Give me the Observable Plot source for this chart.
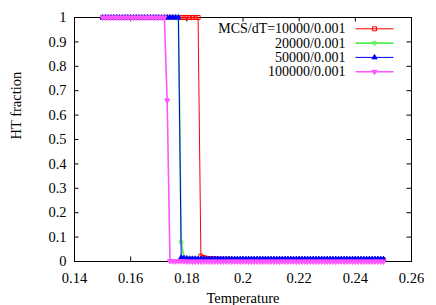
<!DOCTYPE html>
<html><head><meta charset="utf-8">
<script src="https://cdn.jsdelivr.net/npm/d3@7"></script>
<script src="https://cdn.jsdelivr.net/npm/@observablehq/plot@0.6"></script>
<style>
html,body{margin:0;padding:0;background:#fff}
#chart svg{display:block}
</style>
</head><body><div id="chart"></div>
<script>
const temperature = [
  0.150,0.151,0.152,0.153,0.154,0.155,0.156,0.157,0.158,0.159,
  0.160,0.161,0.162,0.163,0.164,0.165,0.166,0.167,0.168,0.169,
  0.170,0.171,0.172,0.173,0.174,0.175,0.176,0.177,0.178,0.179,
  0.180,0.181,0.182,0.183,0.184,0.185,0.186,0.187,0.188,0.189,
  0.190,0.191,0.192,0.193,0.194,0.195,0.196,0.197,0.198,0.199,
  0.200,0.201,0.202,0.203,0.204,0.205,0.206,0.207,0.208,0.209,
  0.210,0.211,0.212,0.213,0.214,0.215,0.216,0.217,0.218,0.219,
  0.220,0.221,0.222,0.223,0.224,0.225,0.226,0.227,0.228,0.229,
  0.230,0.231,0.232,0.233,0.234,0.235,0.236,0.237,0.238,0.239,
  0.240,0.241,0.242,0.243,0.244,0.245,0.246,0.247,0.248,0.249,
  0.250];
const ht10000 = [
  1,1,1,1,1,1,1,1,1,1,
  1,1,1,1,1,1,1,1,1,1,
  1,1,1,1,1,1,1,1,1,1,
  1,1,1,1,1,0.022,0.016,0.013,0.012,0.011,
  0.010,0.010,0.009,0.009,0.009,0.009,0.008,0.008,0.008,0.008,
  0.008,0.008,0.008,0.008,0.008,0.008,0.008,0.008,0.008,0.008,
  0.008,0.008,0.008,0.008,0.008,0.007,0.007,0.007,0.007,0.007,
  0.007,0.007,0.007,0.007,0.007,0.007,0.007,0.007,0.007,0.007,
  0.007,0.007,0.007,0.007,0.007,0.007,0.007,0.007,0.007,0.007,
  0.007,0.007,0.007,0.007,0.007,0.007,0.007,0.007,0.007,0.007,
  0.007];
const ht20000 = [
  1,1,1,1,1,1,1,1,1,1,
  1,1,1,1,1,1,1,1,1,1,
  1,1,1,1,1,1,1,1,0.08,0.016,
  0.013,0.012,0.011,0.011,0.010,0.010,0.010,0.010,0.010,0.010,
  0.010,0.010,0.010,0.010,0.010,0.010,0.010,0.010,0.010,0.010,
  0.010,0.010,0.010,0.010,0.010,0.010,0.010,0.010,0.010,0.010,
  0.009,0.009,0.009,0.009,0.009,0.009,0.009,0.009,0.009,0.009,
  0.009,0.009,0.009,0.009,0.009,0.009,0.009,0.009,0.009,0.009,
  0.009,0.009,0.009,0.009,0.009,0.009,0.009,0.009,0.009,0.009,
  0.009,0.009,0.009,0.009,0.009,0.009,0.009,0.009,0.009,0.009,
  0.009];
const ht50000 = [
  1,1,1,1,1,1,1,1,1,1,
  1,1,1,1,1,1,1,1,1,1,
  1,1,1,1,1,1,1,1,0.016,0.013,
  0.012,0.011,0.011,0.011,0.010,0.010,0.010,0.010,0.010,0.010,
  0.010,0.010,0.010,0.010,0.010,0.010,0.010,0.010,0.010,0.010,
  0.010,0.010,0.010,0.010,0.010,0.010,0.010,0.010,0.010,0.010,
  0.010,0.010,0.010,0.010,0.010,0.010,0.010,0.010,0.010,0.010,
  0.010,0.010,0.010,0.010,0.010,0.010,0.010,0.010,0.010,0.010,
  0.010,0.010,0.010,0.010,0.010,0.010,0.010,0.010,0.010,0.010,
  0.010,0.010,0.010,0.010,0.010,0.010,0.010,0.010,0.010,0.010,
  0.010];
const ht100000 = [
  1,1,1,1,1,1,1,1,1,1,
  1,1,1,1,1,1,1,1,1,1,
  1,1,1,0.66,0.002,0.001,0.001,0.001,0.001,0.001,
  0,0,0,0,0,0,0,0,0,0,
  0,0,0,0,0,0,0,0,0,0,
  0,0,0,0,0,0,0,0,0,0,
  0,0,0,0,0,0,0,0,0,0,
  0,0,0,0,0,0,0,0,0,0,
  0,0,0,0,0,0,0,0,0,0,
  0,0,0,0,0,0,0,0,0,0,
  0];
const seriesLabels = ["MCS/dT=10000/0.001", "20000/0.001", "50000/0.001", "100000/0.001"];
const seriesColors = ["#ff0000", "#55ee55", "#0000ff", "#ff55ff"];
const xTicks = [0.14, 0.16, 0.18, 0.2, 0.22, 0.24, 0.26];
const xTickLabels = ["0.14", "0.16", "0.18", "0.2", "0.22", "0.24", "0.26"];
const yTicks = [0, 0.1, 0.2, 0.3, 0.4, 0.5, 0.6, 0.7, 0.8, 0.9, 1];
const yTickLabels = ["0", "0.1", "0.2", "0.3", "0.4", "0.5", "0.6", "0.7", "0.8", "0.9", "1"];
const xLabel = "Temperature";
const yLabel = "HT fraction";

const FONT = "'Liberation Serif', 'Times New Roman', serif";
const FS = 14.5, FS_LEG = 14;
const W = 436, H = 305, ML = 74, MR = 25, MT = 17, MB = 44;
const xDomain = [0.14, 0.26], yDomain = [0, 1];
const sx = d3.scaleLinear(xDomain, [ML, W - MR]);
const sy = d3.scaleLinear(yDomain, [H - MB, MT]);

const series = [ht10000, ht20000, ht50000, ht100000];
const symbols = ["square", "circle", "triangle", "triangle"];
const filled = [false, false, true, true];
const rotations = [0, 0, 0, 180];
const radii = [2.3, 2.0, 1.9, 1.9];
const widths = [1, 1.6, 1, 1.6];

const tickLenX = sx.invert(ML + 4.5) - xDomain[0];
const tickLenYAbs = Math.abs(yDomain[0] - sy.invert(H - MB - 4.5));
const txt = {fontFamily: FONT, fontSize: FS, fill: "#000"};
const txtLeg = {fontFamily: FONT, fontSize: FS_LEG, fill: "#000"};

const marks = [];
marks.push(Plot.frame({stroke: "#000", strokeWidth: 1}));
marks.push(Plot.ruleX(xTicks, {x: d => d, y1: 0, y2: tickLenYAbs, stroke: "#000"}));
marks.push(Plot.ruleX(xTicks, {x: d => d, y1: 1, y2: 1 - tickLenYAbs, stroke: "#000"}));
marks.push(Plot.ruleY(yTicks, {y: d => d, x1: xDomain[0], x2: xDomain[0] + tickLenX, stroke: "#000"}));
marks.push(Plot.ruleY(yTicks, {y: d => d, x1: xDomain[1], x2: xDomain[1] - tickLenX, stroke: "#000"}));
marks.push(Plot.text(xTicks, {x: d => d, frameAnchor: "bottom", text: d => xTickLabels[xTicks.indexOf(d)], dy: 21, lineAnchor: "bottom", ...txt}));
marks.push(Plot.text(yTicks, {y: d => d, frameAnchor: "left", text: d => yTickLabels[yTicks.indexOf(d)], dx: -8, textAnchor: "end", lineAnchor: "middle", ...txt}));

series.forEach((vals, s) => {
  const rows = vals.map((v, i) => ({t: temperature[i], v}));
  marks.push(Plot.line(rows, {x: "t", y: "v", stroke: seriesColors[s], strokeWidth: widths[s]}));
  marks.push(Plot.dot(rows, {x: "t", y: "v", symbol: symbols[s], r: radii[s], rotate: rotations[s],
    stroke: seriesColors[s], strokeWidth: 1, fill: filled[s] ? seriesColors[s] : "none"}));
});

// legend
const legTextX = 345, legLine = [355, 393], legMarkX = 374, legY0 = 28.3, legDY = 14.3;
seriesLabels.forEach((lab, s) => {
  const py = legY0 + legDY * s;
  const row = [{x1: sx.invert(legLine[0]), x2: sx.invert(legLine[1]), xm: sx.invert(legMarkX), xt: sx.invert(legTextX), y: sy.invert(py), lab}];
  marks.push(Plot.text(row, {x: "xt", y: "y", text: "lab", textAnchor: "end", lineAnchor: "middle", ...txtLeg}));
  marks.push(Plot.link(row, {x1: "x1", x2: "x2", y1: "y", y2: "y", stroke: seriesColors[s], strokeWidth: widths[s]}));
  marks.push(Plot.dot(row, {x: "xm", y: "y", symbol: symbols[s], r: radii[s], rotate: rotations[s],
    stroke: seriesColors[s], strokeWidth: 1, fill: filled[s] ? seriesColors[s] : "none"}));
});

marks.push(Plot.text([xLabel], {frameAnchor: "bottom", text: d => d, dy: 41, lineAnchor: "bottom", ...txt}));
marks.push(Plot.text([yLabel], {frameAnchor: "left", text: d => d, dx: -58, rotate: -90, lineAnchor: "middle", ...txt}));

const chart = Plot.plot({
  width: W, height: H,
  marginLeft: ML, marginRight: MR, marginTop: MT, marginBottom: MB,
  x: {domain: xDomain, axis: null},
  y: {domain: yDomain, axis: null},
  style: {background: "#fff", color: "#000", overflow: "visible", fontFamily: FONT, fontSize: FS + "px"},
  marks
});
document.getElementById("chart").appendChild(chart);
</script>
</body></html>
